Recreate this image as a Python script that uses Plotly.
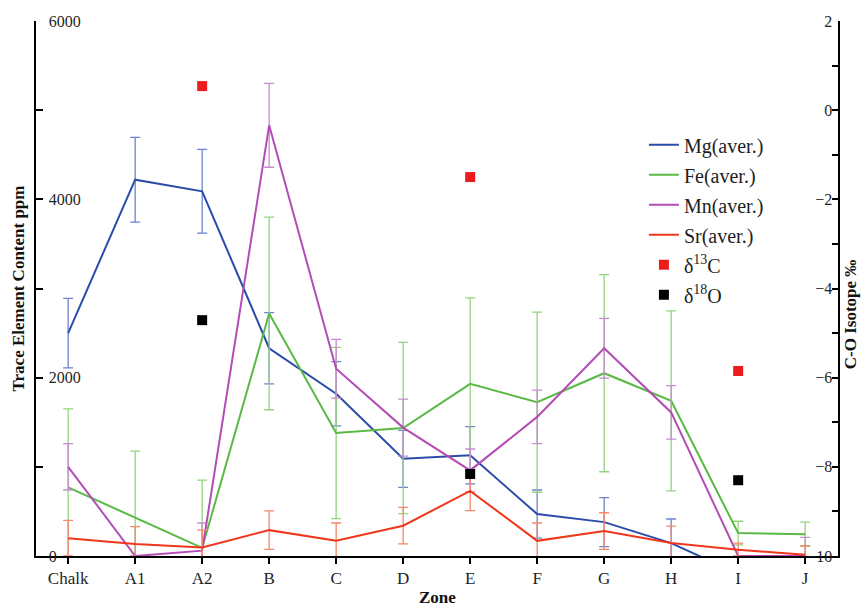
import plotly.graph_objects as go

zones = ["Chalk", "A1", "A2", "B", "C", "D", "E", "F", "G", "H", "I", "J"]

mg = [2500, 4220, 4090, 2330, 1820, 1090, 1130, 470, 380, 145, -200, None]
mg_err = [390, 475, 470, 400, 360, 320, 320, 270, 275, 270, 0, 0]

fe = [770, 426, 90, 2720, 1380, 1435, 1930, 1725, 2050, 1740, 257, 245]
fe_err = [880, 750, 760, 1080, 960, 960, 965, 1010, 1105, 1010, 133, 135]

mn = [1000, 0, 60, 4830, 2100, 1440, 960, 1560, 2330, 1610, 0, 0]
mn_err = [260, 0, 310, 470, 330, 320, 240, 300, 335, 300, 0, 210]

sr = [200, 135, 95, 290, 170, 340, 730, 170, 280, 145, 70, 15]
sr_err = [200, 195, 195, 215, 200, 205, 220, 200, 205, 190, 75, 100]

iso_zones = ["A2", "E", "I"]
d13c = [0.54, -1.50, -5.85]
d18o = [-4.71, -8.16, -8.30]

FONT = "Liberation Serif"

fig = go.Figure()

series = [
    ("Mg(aver.)", mg, mg_err, "#2b4ba8", "#6f82cf"),
    ("Fe(aver.)", fe, fe_err, "#59b944", "#93d47f"),
    ("Mn(aver.)", mn, mn_err, "#b34db5", "#c98bd0"),
    ("Sr(aver.)", sr, sr_err, "#f0361c", "#f5876a"),
]
for i, (name, vals, errs, col, ecol) in enumerate(series):
    fig.add_trace(go.Scatter(
        x=zones, y=vals, name=name, mode="lines",
        line=dict(color=col, width=2),
        error_y=dict(type="data", array=errs, visible=True,
                     color=ecol, thickness=1.3, width=5),
        legendgroup=f"g{i}", connectgaps=False,
    ))

fig.add_trace(go.Scatter(
    x=iso_zones, y=d13c, name="δ<sup>13</sup>C", mode="markers",
    marker=dict(symbol="square", size=10, color="#ec1c1c"),
    yaxis="y2", legendgroup="g4",
))
fig.add_trace(go.Scatter(
    x=iso_zones, y=d18o, name="δ<sup>18</sup>O", mode="markers",
    marker=dict(symbol="square", size=10, color="#000000"),
    yaxis="y2", legendgroup="g5",
))

TXT = "#1e1e1e"

fig.update_layout(
    width=867, height=608,
    margin=dict(l=36, r=29, t=21, b=52),
    paper_bgcolor="white", plot_bgcolor="white",
    font=dict(family=FONT, size=16, color=TXT),
    showlegend=True,
    legend=dict(x=0.758, y=0.805, xanchor="left", yanchor="top",
                bgcolor="rgba(0,0,0,0)", font=dict(size=20, family=FONT, color=TXT),
                tracegroupgap=1),
    xaxis=dict(
        type="category", categoryorder="array", categoryarray=zones,
        range=[-0.48, 11.49], showline=True, linecolor="black", linewidth=2,
        ticks="outside", ticklen=6, tickwidth=2, tickcolor="black",
        showgrid=False, zeroline=False,
        tickfont=dict(size=17, family=FONT, color=TXT),
    ),
    yaxis=dict(
        range=[0, 6000], tickvals=[0, 2000, 4000, 6000],
        showline=True, linecolor="black", linewidth=2, mirror=False,
        ticks="inside", ticklen=7, tickwidth=2, tickcolor="black",
        ticklabelposition="inside", ticklabeloverflow="allow",
        ticklabelstandoff=6,
        minor=dict(tickvals=[1000, 3000, 5000], ticks="inside", ticklen=7,
                   tickwidth=2, tickcolor="black"),
        showgrid=False, zeroline=False,
        tickfont=dict(size=16, family=FONT, color=TXT),
    ),
    yaxis2=dict(
        range=[-10, 2], tickvals=[-10, -8, -6, -4, -2, 0, 2],
        overlaying="y", side="right",
        showline=True, linecolor="black", linewidth=2,
        ticks="inside", ticklen=6, tickwidth=2, tickcolor="black",
        ticklabelposition="inside", ticklabeloverflow="allow",
        minor=dict(tickvals=[-9, -7, -5, -3, -1, 1], ticks="inside", ticklen=6,
                   tickwidth=2, tickcolor="black"),
        showgrid=False, zeroline=False,
        tickfont=dict(size=16, family=FONT, color=TXT),
    ),
    annotations=[
        dict(text="<b>Trace Element Content ppm</b>", xref="paper", yref="paper",
             x=-0.0224, y=0.5, xanchor="center", yanchor="middle", textangle=-90,
             showarrow=False, font=dict(size=17, family=FONT, color="#111")),
        dict(text="<b>C-O Isotope ‰</b>", xref="paper", yref="paper",
             x=1.015, y=0.452, xanchor="center", yanchor="middle", textangle=-90,
             showarrow=False, font=dict(size=17, family=FONT, color="#111")),
        dict(text="<b>Zone</b>", xref="paper", yref="paper",
             x=0.5, y=-0.077, xanchor="center", yanchor="middle",
             showarrow=False, font=dict(size=17, family=FONT, color="#111")),
    ],
)

fig.write_html("out.html")
